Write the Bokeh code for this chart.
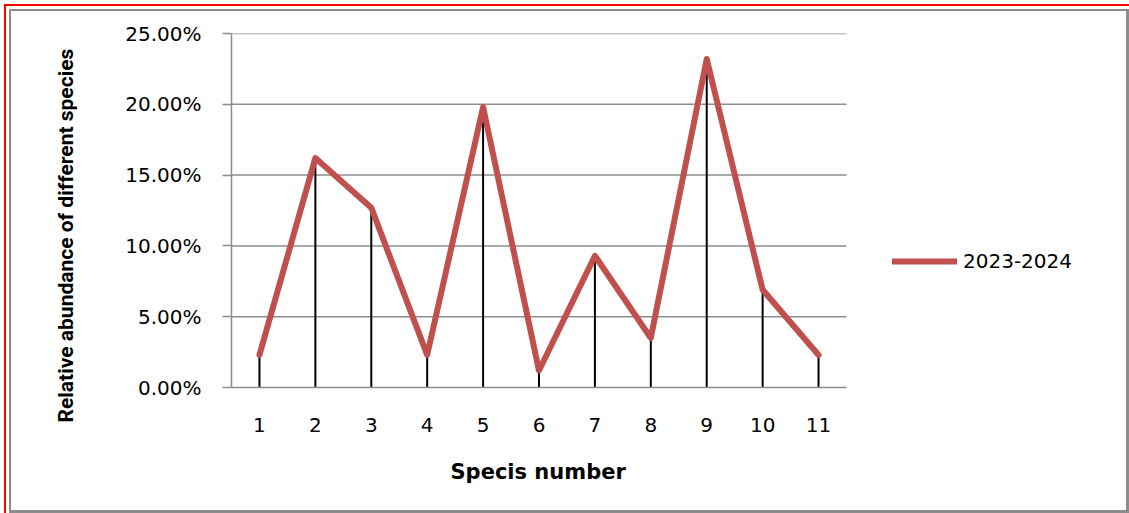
from bokeh.plotting import figure
from bokeh.models import Range1d, FixedTicker, NumeralTickFormatter, ColumnDataSource, InlineStyleSheet, Title
from bokeh.embed import file_html
from bokeh.resources import INLINE

species = [1, 2, 3, 4, 5, 6, 7, 8, 9, 10, 11]
abundance = [0.023, 0.162, 0.127, 0.023, 0.198, 0.012, 0.093, 0.035, 0.232, 0.069, 0.023]
y_ticks = [0.0, 0.05, 0.10, 0.15, 0.20, 0.25]
series_name = "2023-2024"
x_title = "Specis number"
y_title = "Relative abundance  of different species"

W, H = 1129, 513
left, right_pad, top, bottom = 231, 9, 33, 126
plot_w = 615  # width of the category area
frame_w = W - left - right_pad
x0 = species[0] - 0.5
x1 = species[-1] + 0.5
x_end = x0 + (x1 - x0) * frame_w / plot_w

src = ColumnDataSource(dict(x=species, y=abundance, y0=[0] * len(species)))
grid_src = ColumnDataSource(dict(y=y_ticks[1:], xa=[x0] * (len(y_ticks) - 1), xb=[x1] * (len(y_ticks) - 1)))

shadow = ("inset 4px 4px 0 0 white, inset 6px 6px 0 0 red, inset 9px 9px 0 0 white, "
          "inset 4px 4px 0 7px #8c8c8c")
p = figure(width=W, height=H, output_backend="svg", toolbar_location=None,
           x_range=Range1d(x0, x_end), y_range=Range1d(0, 0.25),
           min_border_left=left, min_border_right=right_pad, min_border_top=top,
           min_border_bottom=bottom)
p.styles = {"box-shadow": shadow}
p.stylesheets = [InlineStyleSheet(css=":host { box-shadow: %s; }" % shadow)]
p.outline_line_color = None
p.background_fill_color = "white"
p.border_fill_color = None
p.xgrid.visible = False
p.ygrid.visible = False

# horizontal gridlines limited to the category area
p.segment(x0="xa", x1="xb", y0="y", y1="y", source=grid_src, line_color="#8c8c8c", line_width=1.5)
# drop lines
p.segment(x0="x", y0="y0", x1="x", y1="y", source=src, line_color="black", line_width=2)
p.line("x", "y", source=src, line_color="#C0504D", line_width=6,
       line_join="round", line_cap="round", legend_label=series_name)

p.xaxis.ticker = FixedTicker(ticks=species)
p.xaxis.bounds = (x0, x1)
p.yaxis.ticker = FixedTicker(ticks=y_ticks)
p.yaxis.formatter = NumeralTickFormatter(format="0.00%")
for ax in (p.xaxis[0], p.yaxis[0]):
    ax.axis_line_color = "#8c8c8c"
    ax.axis_line_width = 1.5
    ax.minor_tick_line_color = None
    ax.major_label_text_font = "DejaVu Sans"
    ax.major_label_text_font_size = "20px"
    ax.major_label_text_color = "black"
p.yaxis.major_tick_line_color = "#8c8c8c"
p.yaxis.major_tick_line_width = 1.5
p.yaxis.major_tick_out = 9
p.yaxis.major_tick_in = 0
p.yaxis.major_label_standoff = 21
p.xaxis.major_tick_out = 0
p.xaxis.major_tick_in = 0
p.xaxis.major_label_standoff = 30

xt = Title(text=x_title, align="left", offset=219, vertical_align="top", standoff=51,
           text_font="DejaVu Sans", text_font_style="bold", text_font_size="21px",
           text_color="black")
p.add_layout(xt, "below")
yt = Title(text=y_title, align="left", offset=-35, vertical_align="bottom", standoff=90,
           text_font="Roboto", text_font_style="bold", text_font_size="21px",
           text_color="black")
p.add_layout(yt, "left")

lg = p.legend[0]
lg.location = (661, 114)
lg.background_fill_alpha = 0
lg.border_line_color = None
lg.padding = 0
lg.margin = 0
lg.glyph_width = 65
lg.glyph_height = 20
lg.label_height = 20
lg.label_standoff = 6
lg.label_text_font = "DejaVu Sans"
lg.label_text_font_size = "20px"
lg.label_text_color = "black"

open("out.html", "w").write(file_html(p, INLINE))
